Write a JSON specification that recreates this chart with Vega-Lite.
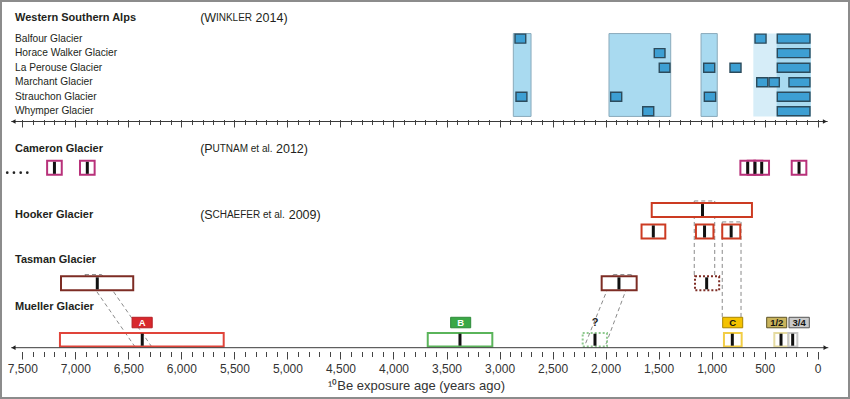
{
  "$schema": "https://vega.github.io/schema/vega-lite/v6.json",
  "width": 850,
  "height": 399,
  "autosize": "none",
  "padding": 0,
  "background": "white",
  "config": {"view": {"stroke": "#8c8c8c", "strokeWidth": 4}, "font": "Liberation Sans"},
  "resolve": {"axis": {"x": "independent"}, "scale": {"fill": "independent", "stroke": "independent", "color": "independent", "strokeDash": "independent", "size": "independent", "shape": "independent"}},
  "datasets": {
    "bands": [
      {"start": 607, "end": 66, "tone": "pale"},
      {"start": 387, "end": 66, "tone": "inner"},
      {"start": 2870, "end": 2703, "tone": "main"},
      {"start": 1968, "end": 1386, "tone": "main"},
      {"start": 1100, "end": 947, "tone": "main"}
    ],
    "winkler": [
      {"glacier": "Balfour Glacier", "lane": 34.5, "start": 2854, "end": 2753},
      {"glacier": "Balfour Glacier", "lane": 34.5, "start": 591, "end": 487},
      {"glacier": "Balfour Glacier", "lane": 34.5, "start": 381, "end": 73},
      {"glacier": "Horace Walker Glacier", "lane": 49.4, "start": 1541, "end": 1440},
      {"glacier": "Horace Walker Glacier", "lane": 49.4, "start": 381, "end": 73},
      {"glacier": "La Perouse Glacier", "lane": 64.3, "start": 1494, "end": 1393},
      {"glacier": "La Perouse Glacier", "lane": 64.3, "start": 1075, "end": 971},
      {"glacier": "La Perouse Glacier", "lane": 64.3, "start": 827, "end": 723},
      {"glacier": "La Perouse Glacier", "lane": 64.3, "start": 381, "end": 73},
      {"glacier": "Marchant Glacier", "lane": 79.2, "start": 575, "end": 471},
      {"glacier": "Marchant Glacier", "lane": 79.2, "start": 459, "end": 362},
      {"glacier": "Marchant Glacier", "lane": 79.2, "start": 271, "end": 73},
      {"glacier": "Strauchon Glacier", "lane": 94.1, "start": 2845, "end": 2742},
      {"glacier": "Strauchon Glacier", "lane": 94.1, "start": 1952, "end": 1848},
      {"glacier": "Strauchon Glacier", "lane": 94.1, "start": 1069, "end": 962},
      {"glacier": "Strauchon Glacier", "lane": 94.1, "start": 381, "end": 73},
      {"glacier": "Whymper Glacier", "lane": 109, "start": 1650, "end": 1546},
      {"glacier": "Whymper Glacier", "lane": 109, "start": 381, "end": 73}
    ],
    "connectors": [
      {"xa": 6909, "ya": 276.5, "xb": 6438, "yb": 350.5},
      {"xa": 6752, "ya": 276.5, "xb": 6280, "yb": 350.5},
      {"xa": 6909, "ya": 276.5, "xb": 6752, "yb": 276.5},
      {"xa": 1927, "ya": 276.5, "xb": 2201, "yb": 350.5},
      {"xa": 1754, "ya": 276.5, "xb": 2006, "yb": 350.5},
      {"xa": 1927, "ya": 276.5, "xb": 1754, "yb": 276.5},
      {"xa": 1164, "ya": 201, "xb": 1164, "yb": 278},
      {"xa": 971, "ya": 201, "xb": 971, "yb": 278},
      {"xa": 1164, "ya": 201, "xb": 971, "yb": 201},
      {"xa": 900, "ya": 222.5, "xb": 900, "yb": 320},
      {"xa": 723, "ya": 222.5, "xb": 723, "yb": 320},
      {"xa": 900, "ya": 222.5, "xb": 723, "yb": 222.5}
    ],
    "boxes": [
      {"site": "Cameron", "kind": "cameron", "line": "solid", "lane": 167, "start": 7266, "end": 7128, "mid": 7197},
      {"site": "Cameron", "kind": "cameron", "line": "solid", "lane": 167, "start": 6956, "end": 6818, "mid": 6887},
      {"site": "Cameron", "kind": "cameron", "line": "solid", "lane": 167, "start": 729, "end": 591, "mid": 660},
      {"site": "Cameron", "kind": "cameron", "line": "solid", "lane": 167, "start": 660, "end": 522, "mid": 591},
      {"site": "Cameron", "kind": "cameron", "line": "solid", "lane": 167, "start": 597, "end": 459, "mid": 528},
      {"site": "Cameron", "kind": "cameron", "line": "solid", "lane": 167, "start": 245, "end": 107, "mid": 176},
      {"site": "Hooker", "kind": "hooker", "line": "solid", "lane": 210.3, "start": 1565, "end": 620, "mid": 1086},
      {"site": "Hooker", "kind": "hooker", "line": "solid", "lane": 232.3, "start": 1661, "end": 1437, "mid": 1550},
      {"site": "Hooker", "kind": "hooker", "line": "solid", "lane": 232.3, "start": 1148, "end": 983, "mid": 1067},
      {"site": "Hooker", "kind": "hooker", "line": "solid", "lane": 232.3, "start": 900, "end": 730, "mid": 816},
      {"site": "Tasman", "kind": "tasman", "line": "solid", "lane": 285.5, "start": 7135, "end": 6454, "mid": 6793},
      {"site": "Tasman", "kind": "tasman", "line": "solid", "lane": 285.5, "start": 2037, "end": 1707, "mid": 1874},
      {"site": "Tasman", "kind": "tasman", "line": "dotted", "lane": 285.5, "start": 1157, "end": 929, "mid": 1047}
    ],
    "mueller": [
      {"kind": "A", "line": "solid", "lane": 343.3, "start": 7145, "end": 5601, "mid": 6369},
      {"kind": "B", "line": "solid", "lane": 343.3, "start": 3677, "end": 3068, "mid": 3373},
      {"kind": "Q", "line": "dotted", "lane": 343.3, "start": 2216, "end": 1987, "mid": 2100},
      {"kind": "C", "line": "solid", "lane": 343.3, "start": 884, "end": 717, "mid": 805},
      {"kind": "c12", "line": "solid", "lane": 343.3, "start": 409, "end": 277, "mid": 346},
      {"kind": "c34", "line": "solid", "lane": 343.3, "start": 277, "end": 192, "mid": 236}
    ],
    "stages": [
      {"kind": "A", "label": "A", "lane": 325.7, "start": 6465, "end": 6275, "mid": 6370},
      {"kind": "B", "label": "B", "lane": 325.7, "start": 3461, "end": 3272, "mid": 3366},
      {"kind": "C", "label": "C", "lane": 325.7, "start": 896, "end": 707, "mid": 801},
      {"kind": "c12", "label": "1/2", "lane": 325.7, "start": 481, "end": 292, "mid": 386},
      {"kind": "c34", "label": "3/4", "lane": 325.7, "start": 271, "end": 79, "mid": 175}
    ],
    "titles": [
      {"text": "Western Southern Alps", "lane": 13.5},
      {"text": "Cameron Glacier", "lane": 147.3},
      {"text": "Hooker Glacier", "lane": 215.7},
      {"text": "Tasman Glacier", "lane": 261.5},
      {"text": "Mueller Glacier", "lane": 310}
    ],
    "names": [
      {"text": "Balfour Glacier", "lane": 34.5},
      {"text": "Horace Walker Glacier", "lane": 49.4},
      {"text": "La Perouse Glacier", "lane": 64.3},
      {"text": "Marchant Glacier", "lane": 79.2},
      {"text": "Strauchon Glacier", "lane": 94.1},
      {"text": "Whymper Glacier", "lane": 109}
    ],
    "citations": [
      {"text": "(W", "part": "big", "at": 5823, "lane": 13.5},
      {"text": "INKLER", "part": "small", "at": 5674, "lane": 13.5},
      {"text": "2014)", "part": "big", "at": 5300, "lane": 13.5},
      {"text": "(P", "part": "big", "at": 5823, "lane": 147.3},
      {"text": "UTNAM et al.", "part": "small", "at": 5707, "lane": 147.3},
      {"text": "2012)", "part": "big", "at": 5108, "lane": 147.3},
      {"text": "(S", "part": "big", "at": 5823, "lane": 215.7},
      {"text": "CHAEFER et al.", "part": "small", "at": 5707, "lane": 215.7},
      {"text": "2009)", "part": "big", "at": 4988, "lane": 215.7}
    ],
    "dots": [
      {"at": 7642, "lane": 172}, {"at": 7579, "lane": 172}, {"at": 7515, "lane": 172}, {"at": 7453, "lane": 172}
    ],
    "axisBottom": [{"from": 7604, "to": -100, "lane": 351.5}],
    "axisTop": [{"from": 7604, "to": -94, "lane": 119.5}],
    "arrows": [
      {"at": 7583, "lane": 351.5, "dir": "left"},
      {"at": -74, "lane": 351.5, "dir": "right"},
      {"at": 7583, "lane": 119.5, "dir": "left"},
      {"at": -68, "lane": 119.5, "dir": "right"}
    ]
  },
  "layer": [
    {
      "data": {"name": "bands"},
      "mark": {"type": "rect", "strokeWidth": 1},
      "encoding": {
        "x": {"field": "start", "type": "quantitative", "scale": {"domain": [-304.6, 7710.3], "reverse": true, "nice": false, "zero": false}, "axis": null},
        "x2": {"field": "end"},
        "y": {"datum": 29.3, "type": "quantitative", "scale": {"domain": [0, 399], "reverse": true, "nice": false, "zero": false}, "axis": null},
        "y2": {"datum": 114.3},
        "fill": {"field": "tone", "type": "nominal", "scale": {"domain": ["pale", "inner", "main"], "range": ["#d6edf8", "#a9daf0", "#a9daf0"]}, "legend": null},
        "stroke": {"field": "tone", "type": "nominal", "scale": {"domain": ["pale", "inner", "main"], "range": ["transparent", "transparent", "#8aaabb"]}, "legend": null}
      }
    },
    {
      "data": {"name": "winkler"},
      "mark": {"type": "bar", "height": 9, "fill": "#3d9fd3", "stroke": "#2c4b5c", "strokeWidth": 1.4},
      "encoding": {
        "x": {"field": "start", "type": "quantitative", "scale": {"domain": [-304.6, 7710.3], "reverse": true, "nice": false, "zero": false}, "axis": null},
        "x2": {"field": "end"},
        "y": {"field": "lane", "type": "quantitative", "scale": {"domain": [0, 399], "reverse": true, "nice": false, "zero": false}, "axis": null}
      }
    },
    {
      "data": {"name": "connectors"},
      "mark": {"type": "rule", "stroke": "#8a8a8a", "strokeWidth": 1, "strokeDash": [4, 3]},
      "encoding": {
        "x": {"field": "xa", "type": "quantitative", "scale": {"domain": [-304.6, 7710.3], "reverse": true, "nice": false, "zero": false}, "axis": null},
        "x2": {"field": "xb"},
        "y": {"field": "ya", "type": "quantitative", "scale": {"domain": [0, 399], "reverse": true, "nice": false, "zero": false}, "axis": null},
        "y2": {"field": "yb"}
      }
    },
    {
      "data": {"name": "boxes"},
      "mark": {"type": "bar", "height": 14, "fill": "white", "strokeWidth": 2},
      "encoding": {
        "x": {"field": "start", "type": "quantitative", "scale": {"domain": [-304.6, 7710.3], "reverse": true, "nice": false, "zero": false}, "axis": null},
        "x2": {"field": "end"},
        "y": {"field": "lane", "type": "quantitative", "scale": {"domain": [0, 399], "reverse": true, "nice": false, "zero": false}, "axis": null},
        "stroke": {"field": "kind", "type": "nominal", "scale": {"domain": ["cameron", "hooker", "tasman"], "range": ["#b8317a", "#cc3b22", "#7d2c24"]}, "legend": null},
        "strokeDash": {"field": "line", "type": "nominal", "scale": {"domain": ["solid", "dotted"], "range": [[1, 0], [2, 2]]}, "legend": null}
      }
    },
    {
      "data": {"name": "mueller"},
      "mark": {"type": "bar", "height": 13.5, "fill": "transparent", "strokeWidth": 2},
      "encoding": {
        "x": {"field": "start", "type": "quantitative", "scale": {"domain": [-304.6, 7710.3], "reverse": true, "nice": false, "zero": false}, "axis": null},
        "x2": {"field": "end"},
        "y": {"field": "lane", "type": "quantitative", "scale": {"domain": [0, 399], "reverse": true, "nice": false, "zero": false}, "axis": null},
        "stroke": {"field": "kind", "type": "nominal", "scale": {"domain": ["A", "B", "Q", "C", "c12", "c34"], "range": ["#e0443a", "#5ab45a", "#8fc98f", "#f2cd45", "#e5dba0", "#c6c6c6"]}, "legend": null},
        "strokeDash": {"field": "line", "type": "nominal", "scale": {"domain": ["solid", "dotted"], "range": [[1, 0], [2, 2]]}, "legend": null}
      }
    },
    {
      "data": {"name": "boxes"},
      "mark": {"type": "tick", "orient": "vertical", "size": 12, "thickness": 3, "color": "#111111", "opacity": 1},
      "encoding": {
        "x": {"field": "mid", "type": "quantitative", "scale": {"domain": [-304.6, 7710.3], "reverse": true, "nice": false, "zero": false}, "axis": null},
        "y": {"field": "lane", "type": "quantitative", "scale": {"domain": [0, 399], "reverse": true, "nice": false, "zero": false}, "axis": null}
      }
    },
    {
      "data": {"name": "mueller"},
      "mark": {"type": "tick", "orient": "vertical", "size": 12, "thickness": 3, "color": "#111111", "opacity": 1},
      "encoding": {
        "x": {"field": "mid", "type": "quantitative", "scale": {"domain": [-304.6, 7710.3], "reverse": true, "nice": false, "zero": false}, "axis": null},
        "y": {"field": "lane", "type": "quantitative", "scale": {"domain": [0, 399], "reverse": true, "nice": false, "zero": false}, "axis": null}
      }
    },
    {
      "data": {"name": "stages"},
      "mark": {"type": "bar", "height": 10.5, "strokeWidth": 1},
      "encoding": {
        "x": {"field": "start", "type": "quantitative", "scale": {"domain": [-304.6, 7710.3], "reverse": true, "nice": false, "zero": false}, "axis": null},
        "x2": {"field": "end"},
        "y": {"field": "lane", "type": "quantitative", "scale": {"domain": [0, 399], "reverse": true, "nice": false, "zero": false}, "axis": null},
        "fill": {"field": "kind", "type": "nominal", "scale": {"domain": ["A", "B", "C", "c12", "c34"], "range": ["#d8272d", "#3aa846", "#f4c200", "#c9b45c", "#cacaca"]}, "legend": null},
        "stroke": {"field": "kind", "type": "nominal", "scale": {"domain": ["A", "B", "C", "c12", "c34"], "range": ["#b51e24", "#2e8a3a", "#a88400", "#5e5426", "#555555"]}, "legend": null}
      }
    },
    {
      "data": {"name": "stages"},
      "mark": {"type": "text", "fontSize": 9.5, "fontWeight": "bold", "baseline": "middle", "align": "center"},
      "encoding": {
        "x": {"field": "mid", "type": "quantitative", "scale": {"domain": [-304.6, 7710.3], "reverse": true, "nice": false, "zero": false}, "axis": null},
        "y": {"field": "lane", "type": "quantitative", "scale": {"domain": [0, 399], "reverse": true, "nice": false, "zero": false}, "axis": null},
        "text": {"field": "label"},
        "color": {"field": "kind", "type": "nominal", "scale": {"domain": ["A", "B", "C", "c12", "c34"], "range": ["#ffffff", "#ffffff", "#111111", "#111111", "#111111"]}, "legend": null}
      }
    },
    {
      "data": {"values": [{"text": "?", "at": 2100, "lane": 326.5}]},
      "mark": {"type": "text", "fontSize": 11, "fontWeight": "bold", "baseline": "middle", "align": "center", "color": "#222"},
      "encoding": {
        "x": {"field": "at", "type": "quantitative", "scale": {"domain": [-304.6, 7710.3], "reverse": true, "nice": false, "zero": false}, "axis": null},
        "y": {"field": "lane", "type": "quantitative", "scale": {"domain": [0, 399], "reverse": true, "nice": false, "zero": false}, "axis": null},
        "text": {"field": "text"}
      }
    },
    {
      "data": {"name": "titles"},
      "mark": {"type": "text", "fontSize": 11, "fontWeight": "bold", "baseline": "middle", "align": "left", "color": "#231f20"},
      "encoding": {
        "x": {"datum": 7569, "type": "quantitative", "scale": {"domain": [-304.6, 7710.3], "reverse": true, "nice": false, "zero": false}, "axis": null},
        "y": {"field": "lane", "type": "quantitative", "scale": {"domain": [0, 399], "reverse": true, "nice": false, "zero": false}, "axis": null},
        "text": {"field": "text"}
      }
    },
    {
      "data": {"name": "names"},
      "mark": {"type": "text", "fontSize": 10.2, "baseline": "middle", "align": "left", "color": "#231f20"},
      "encoding": {
        "x": {"datum": 7569, "type": "quantitative", "scale": {"domain": [-304.6, 7710.3], "reverse": true, "nice": false, "zero": false}, "axis": null},
        "y": {"field": "lane", "type": "quantitative", "scale": {"domain": [0, 399], "reverse": true, "nice": false, "zero": false}, "axis": null},
        "text": {"field": "text"}
      }
    },
    {
      "data": {"name": "citations"},
      "mark": {"type": "text", "baseline": "middle", "align": "left", "color": "#231f20"},
      "encoding": {
        "x": {"field": "at", "type": "quantitative", "scale": {"domain": [-304.6, 7710.3], "reverse": true, "nice": false, "zero": false}, "axis": null},
        "y": {"field": "lane", "type": "quantitative", "scale": {"domain": [0, 399], "reverse": true, "nice": false, "zero": false}, "axis": null},
        "text": {"field": "text"},
        "size": {"field": "part", "type": "nominal", "scale": {"domain": ["big", "small"], "range": [12.5, 10]}, "legend": null}
      }
    },
    {
      "data": {"name": "dots"},
      "mark": {"type": "point", "shape": "circle", "filled": true, "size": 7, "color": "#222", "opacity": 1},
      "encoding": {
        "x": {"field": "at", "type": "quantitative", "scale": {"domain": [-304.6, 7710.3], "reverse": true, "nice": false, "zero": false}, "axis": null},
        "y": {"field": "lane", "type": "quantitative", "scale": {"domain": [0, 399], "reverse": true, "nice": false, "zero": false}, "axis": null}
      }
    },
    {
      "data": {"name": "axisBottom"},
      "mark": {"type": "rule", "stroke": "#3a3a3a", "strokeWidth": 1},
      "encoding": {
        "x": {
          "field": "from", "type": "quantitative",
          "scale": {"domain": [-304.6, 7710.3], "reverse": true, "nice": false, "zero": false},
          "axis": {
            "orient": "bottom", "offset": -47.5, "domain": false, "grid": false,
            "values": [0,100,200,300,400,500,600,700,800,900,1000,1100,1200,1300,1400,1500,1600,1700,1800,1900,2000,2100,2200,2300,2400,2500,2600,2700,2800,2900,3000,3100,3200,3300,3400,3500,3600,3700,3800,3900,4000,4100,4200,4300,4400,4500,4600,4700,4800,4900,5000,5100,5200,5300,5400,5500,5600,5700,5800,5900,6000,6100,6200,6300,6400,6500,6600,6700,6800,6900,7000,7100,7200,7300,7400,7500],
            "tickSize": {"condition": {"test": "datum.value % 500 === 0", "value": 7.5}, "value": 5},
            "tickColor": "#444", "tickWidth": 1,
            "labelExpr": "datum.value % 500 === 0 ? format(datum.value, ',') : ''",
            "labelFontSize": 12, "labelColor": "#333", "labelPadding": 4, "labelFlush": false, "labelOverlap": false,
            "title": "¹⁰Be exposure age (years ago)", "titleFontSize": 13, "titleFontWeight": "normal", "titleColor": "#333", "titlePadding": 5, "titleX": 416
          }
        },
        "x2": {"field": "to"},
        "y": {"field": "lane", "type": "quantitative", "scale": {"domain": [0, 399], "reverse": true, "nice": false, "zero": false}, "axis": null}
      }
    },
    {
      "data": {"name": "axisTop"},
      "mark": {"type": "rule", "stroke": "#3a3a3a", "strokeWidth": 1},
      "encoding": {
        "x": {
          "field": "from", "type": "quantitative",
          "scale": {"domain": [-304.6, 7710.3], "reverse": true, "nice": false, "zero": false},
          "axis": {
            "orient": "bottom", "offset": -279.5, "domain": false, "grid": false, "labels": false, "title": null,
            "values": [0,100,200,300,400,500,600,700,800,900,1000,1100,1200,1300,1400,1500,1600,1700,1800,1900,2000,2100,2200,2300,2400,2500,2600,2700,2800,2900,3000,3100,3200,3300,3400,3500,3600,3700,3800,3900,4000,4100,4200,4300,4400,4500,4600,4700,4800,4900,5000,5100,5200,5300,5400,5500,5600,5700,5800,5900,6000,6100,6200,6300,6400,6500,6600,6700,6800,6900,7000,7100,7200,7300,7400,7500],
            "tickSize": {"condition": {"test": "datum.value % 500 === 0", "value": 7.5}, "value": 5},
            "tickColor": "#444", "tickWidth": 1
          }
        },
        "x2": {"field": "to"},
        "y": {"field": "lane", "type": "quantitative", "scale": {"domain": [0, 399], "reverse": true, "nice": false, "zero": false}, "axis": null}
      }
    },
    {
      "data": {"name": "arrows"},
      "mark": {"type": "point", "filled": true, "size": 22, "color": "#222", "opacity": 1},
      "encoding": {
        "x": {"field": "at", "type": "quantitative", "scale": {"domain": [-304.6, 7710.3], "reverse": true, "nice": false, "zero": false}, "axis": null},
        "y": {"field": "lane", "type": "quantitative", "scale": {"domain": [0, 399], "reverse": true, "nice": false, "zero": false}, "axis": null},
        "shape": {"field": "dir", "type": "nominal", "scale": {"domain": ["left", "right"], "range": ["triangle-left", "triangle-right"]}, "legend": null}
      }
    }
  ]
}
